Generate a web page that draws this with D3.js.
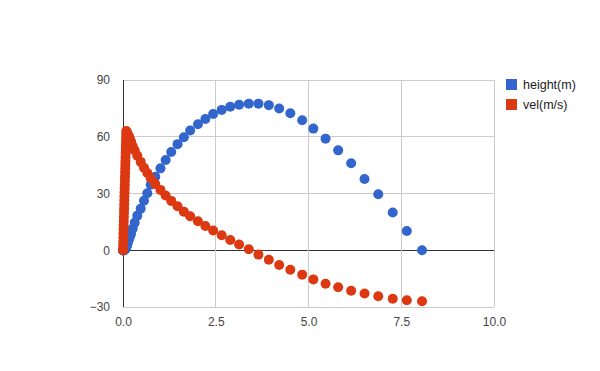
<!DOCTYPE html>
<html>
<head>
<meta charset="utf-8">
<script src="https://cdn.jsdelivr.net/npm/d3@7"></script>
<style>
  body { margin: 0; background: #fff; }
  text { font-family: Arial, "Liberation Sans", sans-serif; }
</style>
</head>
<body>
<script>
const width = 600,
    height = 371

const margin = { left: 123, top: 80, right: 106, bottom: 64 }
const plotW = width - margin.left - margin.right
const plotH = height - margin.top - margin.bottom

// time (s)
const time = [
    0, 0.003, 0.006, 0.009, 0.012, 0.015, 0.018, 0.021, 0.024, 0.027,
    0.030, 0.033, 0.036, 0.039, 0.042, 0.045, 0.048, 0.051, 0.054, 0.057,
    0.060, 0.063, 0.066, 0.069, 0.072, 0.075, 0.078, 0.081, 0.084, 0.087,
    0.090, 0.100, 0.113, 0.128, 0.145, 0.165, 0.19, 0.216, 0.261, 0.315,
    0.385, 0.477, 0.566, 0.655, 0.747, 0.87, 1.01, 1.15, 1.30, 1.47,
    1.64, 1.81, 2.02, 2.22, 2.43, 2.66, 2.89, 3.13, 3.39, 3.65,
    3.93, 4.21, 4.51, 4.83, 5.13, 5.46, 5.80, 6.15, 6.51, 6.88,
    7.27, 7.65, 8.06
]

const heightM = [
    0, 0, 0, 0, 0, 0, 0.1, 0.1, 0.1, 0.1,
    0.2, 0.2, 0.2, 0.3, 0.3, 0.4, 0.4, 0.5, 0.5, 0.6,
    0.7, 0.7, 0.8, 0.9, 1.0, 1.1, 1.2, 1.3, 1.4, 1.5,
    1.7, 2.3, 3.1, 4.0, 5.0, 6.1, 7.4, 8.6, 11.4, 14.6,
    18.3, 22.0, 26.2, 30.1, 34.6, 38.9, 43.3, 47.7, 51.9, 56.1,
    59.7, 63.3, 66.6, 69.4, 72.0, 74.2, 75.9, 76.9, 77.5, 77.5,
    76.7, 74.9, 72.4, 68.7, 64.3, 59.0, 52.8, 46.0, 37.7, 29.6,
    20.0, 10.2, 0
]

const velMs = [
    0, 2.2, 4.4, 6.6, 8.8, 11.0, 13.2, 15.4, 17.6, 19.8,
    22.0, 24.2, 26.4, 28.5, 30.6, 32.7, 34.8, 36.9, 39.0, 41.1,
    43.2, 45.2, 47.2, 49.2, 51.2, 53.2, 55.2, 57.2, 59.2, 61.2,
    63.0, 62.5, 61.9, 61.3, 60.7, 60.0, 58.7, 57.5, 55.1, 52.8,
    50.0, 46.7, 43.6, 40.8, 38.1, 35.0, 31.9, 28.9, 26.1, 23.3,
    20.4, 18.0, 15.3, 12.8, 10.4, 7.9, 5.4, 3.0, 0.5, -2.3,
    -5.0, -7.8, -10.3, -12.9, -15.4, -17.7, -19.6, -21.4, -22.9, -24.3,
    -25.6, -26.4, -27.0
]

const seriesNames = ["height(m)", "vel(m/s)"]
const seriesColors = ["#3366cc", "#dc3912"]
const xTicks = [0, 2.5, 5, 7.5, 10]
const yTicks = [-30, 0, 30, 60, 90]

const svg = d3.select("body")
    .append("svg")
    .attr("width", width)
    .attr("height", height)

const g = svg.append("g")
    .attr("transform", `translate(${margin.left}, ${margin.top})`)

const x = d3.scaleLinear().domain([0, 10]).range([0, plotW])
const y = d3.scaleLinear().domain([-30, 90]).range([plotH, 0])

// gridlines
g.selectAll(".hgrid")
    .data(yTicks)
    .join("line")
    .attr("x1", 0).attr("x2", plotW)
    .attr("y1", d => y(d)).attr("y2", d => y(d))
    .attr("stroke", d => d === 0 ? "#333" : "#ccc")
    .attr("stroke-width", 1)
    .attr("shape-rendering", "crispEdges")

g.selectAll(".vgrid")
    .data(xTicks)
    .join("line")
    .attr("y1", 0).attr("y2", plotH)
    .attr("x1", d => x(d)).attr("x2", d => x(d))
    .attr("stroke", d => d === 0 ? "#333" : "#ccc")
    .attr("stroke-width", 1)
    .attr("shape-rendering", "crispEdges")

// axis labels
const xAxis = g.append("g")
    .attr("transform", `translate(0, ${plotH})`)
    .call(d3.axisBottom(x).tickValues(xTicks).tickFormat(d3.format(".1f")).tickSize(0).tickPadding(10))
xAxis.select(".domain").remove()

const yAxis = g.append("g")
    .call(d3.axisLeft(y).tickValues(yTicks).tickFormat(d3.format("d")).tickSize(0).tickPadding(13))
yAxis.select(".domain").remove()

svg.selectAll(".tick text")
    .attr("font-size", 12)
    .attr("font-family", "Arial, 'Liberation Sans', sans-serif")
    .attr("fill", "#444")

// points
const rows = time.map((t, i) => ({ t: t, h: heightM[i], v: velMs[i] }))

g.selectAll(".hpt")
    .data(rows)
    .join("circle")
    .attr("cx", d => x(d.t))
    .attr("cy", d => y(d.h))
    .attr("r", 5)
    .attr("fill", seriesColors[0])

g.selectAll(".vpt")
    .data(rows)
    .join("circle")
    .attr("cx", d => x(d.t))
    .attr("cy", d => y(d.v))
    .attr("r", 5)
    .attr("fill", seriesColors[1])

// legend
const legend = svg.selectAll(".legend")
    .data(seriesNames)
    .join("g")
    .attr("transform", (d, i) => `translate(506, ${79 + i * 20})`)

legend.append("rect")
    .attr("width", 11)
    .attr("height", 11)
    .attr("fill", (d, i) => seriesColors[i])

legend.append("text")
    .attr("x", 17)
    .attr("y", 10)
    .attr("font-size", 12.5)
    .attr("fill", "#222")
    .text(d => d)
</script>
</body>
</html>
